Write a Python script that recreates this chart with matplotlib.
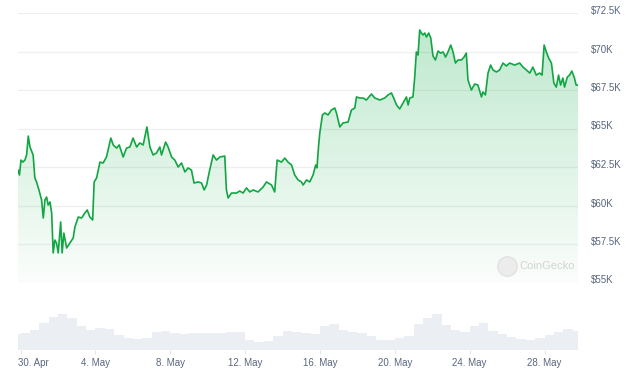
import matplotlib
matplotlib.use("Agg")
import matplotlib.pyplot as plt
import numpy as np
from matplotlib.patches import Polygon
from matplotlib.transforms import ScaledTranslation

# days since 30 Apr 00:00, price in thousand USD
days = [-0.14, -0.06, 0.02, 0.12, 0.23, 0.32, 0.41, 0.50, 0.67, 0.76, 0.85, 0.98, 1.12, 1.21, 1.30, 1.39,
        1.47, 1.57, 1.66, 1.74, 1.83, 1.92, 2.01, 2.14, 2.22, 2.31, 2.46, 2.63, 2.81, 2.90, 3.08, 3.26,
        3.43, 3.56, 3.70, 3.85, 3.93, 4.06, 4.24, 4.41, 4.59, 4.82, 4.95, 5.13, 5.27, 5.48, 5.66, 5.84,
        6.01, 6.20, 6.37, 6.55, 6.75, 6.91, 7.08, 7.26, 7.44, 7.53, 7.75, 7.88, 8.07, 8.24, 8.42, 8.60,
        8.78, 8.95, 9.13, 9.27, 9.49, 9.67, 9.81, 9.94, 10.07, 10.29, 10.47, 10.65, 10.91, 11.00, 11.09, 11.27,
        11.54, 11.71, 11.89, 12.07, 12.25, 12.43, 12.69, 12.96, 13.14, 13.41, 13.58, 13.71, 13.94, 14.12, 14.29, 14.48,
        14.65, 14.83, 15.01, 15.10, 15.28, 15.45, 15.63, 15.77, 15.84, 15.92, 15.99, 16.13, 16.26, 16.43, 16.61, 16.79,
        16.88, 17.06, 17.23, 17.50, 17.68, 17.86, 17.95, 18.12, 18.30, 18.48, 18.75, 18.93, 19.20, 19.46, 19.64, 19.82,
        19.94, 20.09, 20.26, 20.44, 20.62, 20.71, 20.80, 20.97, 21.06, 21.15, 21.24, 21.33, 21.42, 21.51, 21.60, 21.69,
        21.81, 21.92, 22.04, 22.17, 22.31, 22.45, 22.58, 22.71, 22.84, 22.99, 23.11, 23.24, 23.38, 23.56, 23.70, 23.82,
        23.91, 24.09, 24.27, 24.44, 24.63, 24.71, 24.84, 24.98, 25.12, 25.25, 25.43, 25.60, 25.78, 25.96, 26.14, 26.40,
        26.67, 26.85, 27.03, 27.21, 27.38, 27.56, 27.74, 27.87, 27.98, 28.10, 28.22, 28.37, 28.50, 28.63, 28.75, 28.86,
        28.98, 29.07, 29.22, 29.34, 29.46, 29.60, 29.69, 29.79]
prices = [62.30, 61.98, 62.95, 62.82, 62.95, 63.28, 64.51, 63.80, 63.28, 61.79, 61.53, 61.01, 60.36, 59.19, 60.36, 60.55,
          60.03, 60.23, 59.51, 56.92, 57.76, 57.56, 56.92, 58.93, 56.92, 58.21, 57.24, 57.56, 57.89, 58.60, 59.25, 59.19,
          59.51, 59.71, 59.25, 59.06, 61.53, 61.79, 62.82, 62.76, 63.15, 64.38, 63.93, 63.73, 63.93, 63.15, 63.73, 63.80,
          64.38, 63.80, 64.06, 63.93, 65.10, 63.80, 63.28, 63.41, 63.80, 63.28, 64.12, 63.80, 63.15, 62.95, 62.50, 62.76,
          62.18, 62.44, 62.30, 61.46, 61.53, 61.46, 61.01, 61.33, 62.11, 63.28, 62.95, 63.15, 63.21, 61.01, 60.49, 60.81,
          60.81, 60.94, 60.81, 61.14, 60.88, 61.01, 60.88, 61.20, 61.53, 61.33, 60.88, 62.95, 62.82, 63.08, 62.82, 62.63,
          61.98, 61.66, 61.53, 61.33, 61.66, 61.53, 61.98, 62.63, 62.44, 63.80, 64.71, 65.88, 66.01, 65.88, 66.20, 66.33,
          66.01, 65.10, 65.36, 65.42, 66.20, 66.33, 67.05, 66.98, 66.98, 66.85, 67.24, 66.98, 66.85, 66.98, 67.18, 67.31,
          66.98, 66.53, 66.27, 66.66, 67.05, 66.53, 66.98, 67.05, 68.28, 69.97, 69.77, 71.40, 71.20, 71.07, 71.20, 70.94,
          71.20, 70.88, 69.71, 69.45, 70.03, 69.90, 69.97, 69.64, 69.97, 70.42, 69.97, 69.25, 69.45, 69.45, 69.64, 69.90,
          68.15, 67.50, 67.89, 67.82, 67.05, 67.37, 67.18, 68.60, 69.12, 68.80, 68.67, 68.80, 69.25, 69.06, 69.25, 69.12,
          69.25, 68.99, 68.80, 68.60, 68.99, 68.47, 68.60, 68.47, 70.42, 69.97, 69.58, 69.25, 67.95, 67.69, 68.47, 67.82,
          68.28, 67.69, 68.34, 68.47, 68.73, 68.28, 67.82, 67.82]

# trading volume per half day (relative units)
volume = [16, 17, 20, 27, 33, 36, 32, 24, 20, 22, 21, 15, 12, 11, 12, 18, 19, 17, 16, 17, 17,
          17, 17, 18, 18, 10, 8, 9, 14, 19, 18, 17, 16, 24, 26, 20, 18, 17, 14, 10, 10,
          12, 14, 26, 32, 36, 25, 20, 18, 24, 27, 19, 16, 13, 11, 10, 12, 15, 18, 21, 19]

tick_days = [0, 4, 8, 12, 16, 20, 24, 28]
tick_labels = ["30. Apr", "4. May", "8. May", "12. May", "16. May", "20. May", "24. May", "28. May"]
price_ticks = [55, 57.5, 60, 62.5, 65, 67.5, 70, 72.5]
price_labels = ["$55K", "$57.5K", "$60K", "$62.5K", "$65K", "$67.5K", "$70K", "$72.5K"]

plt.rcParams['font.family'] = ['Liberation Sans', 'DejaVu Sans']
W, H = 626, 377
fig = plt.figure(figsize=(W / 100, H / 100), dpi=100)

x0, x1 = 18, 578
ax = fig.add_axes([x0 / W, (H - 282.5) / H, (x1 - x0) / W, (282.5 - 13) / H])
vax = fig.add_axes([x0 / W, (H - 350) / H, (x1 - x0) / W, 60 / H])

xmin, xmax = days[0], days[-1]
ymin, ymax = 55, 72.5
green = '#12a543'
label_col = '#58667e'

# gradient fill under the line
grad = np.zeros((256, 1, 4))
grad[:, 0, 0] = 0.0
grad[:, 0, 1] = 0.66
grad[:, 0, 2] = 0.24
grad[:, 0, 3] = np.linspace(0.02, 0.27, 256)
im = ax.imshow(grad, extent=[xmin, xmax, ymin, ymax], origin='lower', aspect='auto', zorder=1)
verts = [(xmin, ymin)] + list(zip(days, prices)) + [(xmax, ymin)]
clip = Polygon(verts, closed=True, transform=ax.transData, facecolor='none', edgecolor='none')
ax.add_patch(clip)
im.set_clip_path(clip)

ax.plot(days, prices, color=green, lw=1.2, zorder=3)

for t in price_ticks:
    ax.axhline(t, color='#efefef', lw=0.9, zorder=0)

ax.set_xlim(xmin, xmax)
ax.set_ylim(ymin, ymax)
ax.set_xticks([])
ax.yaxis.tick_right()
ax.set_yticks(price_ticks)
ax.set_yticklabels(price_labels)
ax.tick_params(axis='y', length=0, pad=9, labelsize=7, labelcolor=label_col)
offset = ScaledTranslation(0, 3 / 100, fig.dpi_scale_trans)
for lab in ax.get_yticklabels():
    lab.set_horizontalalignment('left')
    lab.set_transform(lab.get_transform() + offset)
for s in ax.spines.values():
    s.set_visible(False)

# watermark
ax.plot(0.873, 0.062, 'o', ms=14, color='#ececec', mec='#e2e2e2', transform=ax.transAxes, zorder=2)
ax.text(0.895, 0.062, "CoinGecko", transform=ax.transAxes, fontsize=8, color='#d3d3d3',
        va='center', ha='left', zorder=2)

# volume bars
vol_x = np.arange(len(volume)) * 0.5 - 0.5
vax.bar(vol_x, volume, width=0.5, align='edge', color='#ebeef2', edgecolor='none')
vax.set_xlim(xmin, xmax)
vax.set_ylim(0, 60)
vax.set_yticks([])
vax.set_xticks(tick_days)
vax.set_xticklabels(tick_labels)
vax.tick_params(axis='x', length=3, color='#e3e6ea', labelsize=7, labelcolor=label_col, pad=3)
first = vax.get_xticklabels()[0]
first.set_horizontalalignment('left')
first.set_transform(first.get_transform() + ScaledTranslation(-2.5 / 100, 0, fig.dpi_scale_trans))
for s in vax.spines.values():
    s.set_visible(False)

fig.savefig("out.png", dpi=100)
